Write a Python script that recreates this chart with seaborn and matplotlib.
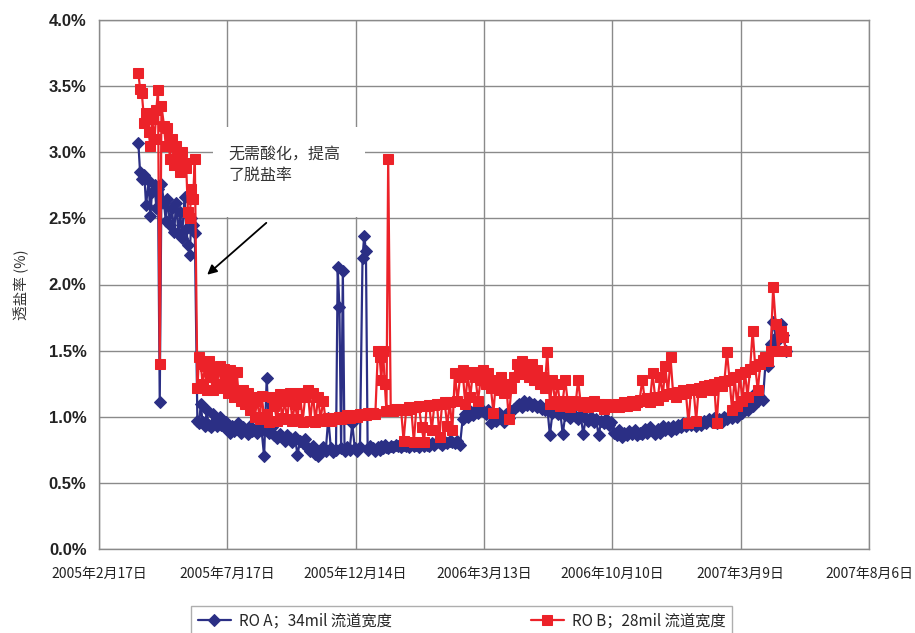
import numpy as np
import pandas as pd
import matplotlib
matplotlib.use("Agg")
import matplotlib.pyplot as plt
import seaborn as sns
from matplotlib.patches import Rectangle
from matplotlib.ticker import FuncFormatter

# ---------------- data ----------------
# days since 2005-02-17
days = [46, 48, 50, 53, 55, 58, 60, 62, 65, 67, 69, 71, 73, 76, 78, 80, 83, 85, 88, 90,
        93, 95, 97, 100, 102, 104, 106, 108, 110, 112,
        115, 117, 119, 121, 124, 126, 128, 131, 133, 136, 138, 141, 143, 146, 148,
        151, 153, 156, 158, 161, 163, 166, 168, 171, 174, 177, 179, 182, 185, 188,
        190, 193, 196, 199, 202, 205, 208, 211, 214, 217, 220, 223, 226, 229, 232,
        235, 238, 241,
        244, 247, 250, 253, 256, 259, 262, 265, 268, 271, 274, 277, 279, 281, 283,
        285, 287, 290, 293, 296, 299, 302, 305, 308, 310, 312, 314, 317, 320, 323,
        326, 328, 330, 332, 334, 336, 338, 341, 344, 347,
        350, 353, 356, 359, 362, 365, 368, 371, 374, 377, 380, 383, 386, 389, 392,
        395, 398, 401, 404, 407, 410, 413, 416, 419, 422, 425, 428, 431, 434, 437,
        440, 443, 446,
        449, 452, 455, 458, 461, 464, 467, 470, 473, 476, 479, 482, 485, 488, 491,
        494, 497, 500, 503, 506, 509, 512, 515, 518, 521, 524, 527, 530, 533, 536,
        539, 542, 545, 548, 551, 554, 557, 560, 563, 566, 569, 572, 575, 578, 581,
        584, 587, 590, 593, 596, 599,
        602, 605, 608, 611, 614, 617, 620, 623, 626, 629, 632, 635, 638, 641, 644,
        647, 650, 653, 656, 659, 662, 665, 668, 671, 674, 677, 680, 683, 686, 689, 692,
        695, 698, 701, 704, 707, 710, 713, 716, 719, 722, 725, 728, 731, 734, 737,
        740, 743, 746, 749, 752, 755, 758, 761, 764, 767, 770, 773, 776, 779, 782,
        785, 788, 791, 794, 797, 800, 803]

ro_a = [3.07, 2.85, 2.80, 2.83, 2.60, 2.78, 2.52, 2.70, 2.75, 2.58, 2.72, 1.11, 2.76, 2.62, 2.48,
        2.65, 2.45, 2.58, 2.40, 2.62, 2.38, 2.55, 2.35, 2.66, 2.42, 2.30, 2.22, 2.50, 2.45, 2.39,
        0.97, 0.95, 1.10, 0.96, 0.93, 1.05, 0.94, 0.92, 1.02, 0.95, 0.93, 1.00, 0.94, 0.92, 0.96,
        0.90, 0.88, 0.93, 0.89, 0.91, 0.95, 0.88, 0.92, 0.90, 0.87, 0.93, 0.89, 0.91, 0.88, 0.92,
        0.90, 0.70, 1.29, 0.88, 0.92, 0.86, 0.84, 0.87, 0.85, 0.82, 0.86, 0.84, 0.81, 0.85, 0.71,
        0.82, 0.80, 0.83,
        0.76, 0.74, 0.78, 0.72, 0.70, 0.75, 0.77, 0.74, 0.99, 0.76, 0.73, 0.75, 2.13, 1.83, 0.76,
        2.10, 0.74, 0.77, 0.75, 0.95, 0.76, 0.74, 0.77, 2.20, 2.37, 2.25, 0.75, 0.78, 0.76, 0.74,
        0.77, 0.75, 0.78, 0.76, 0.79, 0.77, 0.76, 0.78, 0.77, 0.79,
        0.78, 0.77, 0.79, 0.78, 0.77, 0.80, 0.78, 0.79, 0.77, 0.80, 0.78, 0.79, 0.78, 0.80, 0.79,
        0.81, 0.80, 0.79, 0.81, 0.80, 0.82, 0.81, 0.80, 0.82, 0.79, 0.98, 1.02, 1.00, 1.04, 1.01,
        1.05, 1.03, 1.06,
        1.04, 1.02, 1.05, 0.95, 1.00, 0.97, 1.03, 1.00, 0.96, 1.02, 0.99, 1.04, 1.06, 1.08, 1.10,
        1.07, 1.12, 1.09, 1.11, 1.08, 1.10, 1.07, 1.09, 1.06, 1.05, 1.07, 0.86, 1.03, 1.05, 1.02,
        1.04, 0.87, 1.01, 1.03, 0.99, 1.02, 1.00, 0.98, 1.01, 0.87, 0.99, 0.97, 1.00, 0.96, 0.98,
        0.86, 0.97, 0.95, 0.98, 0.94, 0.96,
        0.88, 0.86, 0.90, 0.85, 0.88, 0.86, 0.89, 0.87, 0.90, 0.86, 0.88, 0.87, 0.91, 0.88, 0.92,
        0.89, 0.87, 0.91, 0.88, 0.93, 0.90, 0.92, 0.89, 0.93, 0.91, 0.94, 0.92, 0.95, 0.93, 0.96, 0.94,
        0.95, 0.93, 0.96, 0.94, 0.97, 0.95, 0.98, 0.96, 0.99, 0.95, 0.98, 0.96, 1.00, 0.98, 1.01,
        0.99, 1.02, 1.00, 1.04, 1.03, 1.06, 1.05, 1.10, 1.08, 1.18, 1.12, 1.15, 1.13, 1.40, 1.38,
        1.55, 1.72, 1.60, 1.58, 1.70, 1.62, 1.50]

ro_b = [3.60, 3.48, 3.45, 3.22, 3.30, 3.15, 3.05, 3.25, 3.10, 3.32, 3.47, 1.40, 3.35, 3.20, 3.05,
        3.18, 2.95, 3.10, 2.90, 3.05, 2.98, 2.85, 3.00, 2.92, 2.88, 2.55, 2.50, 2.72, 2.65, 2.95,
        1.22, 1.45, 1.40, 1.25, 1.38, 1.20, 1.42, 1.30, 1.20, 1.35, 1.25, 1.38, 1.22, 1.36, 1.30,
        1.18, 1.35, 1.26, 1.15, 1.34, 1.18, 1.12, 1.20, 1.10, 1.18, 1.05, 1.15, 1.00, 1.12, 0.98,
        1.16, 1.00, 1.02, 0.96, 1.15, 1.08, 0.97, 1.17, 0.99, 1.12, 0.98, 1.18, 0.97, 1.10, 0.98,
        1.18, 0.96, 1.15,
        1.20, 0.97, 1.18, 0.96, 1.15, 0.98, 1.12, 0.97, 0.99, 0.97, 0.99, 0.98, 0.99, 1.00, 0.98,
        1.00, 0.99, 1.01, 0.99, 1.00, 1.01, 1.00, 1.02, 1.01, 1.02, 1.01, 1.03, 1.02, 1.03, 1.02,
        1.50, 1.45, 1.28, 1.50, 1.25, 1.04, 2.95, 1.05, 1.04, 1.06,
        1.05, 1.06, 0.82, 1.05, 1.07, 1.06, 0.81, 1.07, 1.08, 0.92, 0.81, 1.08, 1.09, 0.90, 1.09,
        1.10, 0.85, 1.10, 1.11, 0.93, 1.11, 0.90, 1.33, 1.12, 1.30, 1.35, 1.10, 1.32, 1.15, 1.34,
        1.30, 1.12, 1.28,
        1.35, 1.25, 1.33, 1.22, 1.03, 1.28, 1.20, 1.30, 1.18, 1.25, 0.98, 1.22, 1.30, 1.40, 1.35,
        1.42, 1.32, 1.38, 1.30, 1.40, 1.28, 1.35, 1.25, 1.30, 1.22, 1.49, 1.10, 1.28, 1.12, 1.25,
        1.08, 1.12, 1.28, 1.10, 1.07, 1.12, 1.09, 1.28, 1.10, 1.08, 1.11, 1.07, 1.10, 1.12, 1.08,
        1.10, 1.09, 1.06, 1.10, 1.08, 1.07,
        1.08, 1.10, 1.07, 1.09, 1.11, 1.08, 1.10, 1.12, 1.09, 1.11, 1.13, 1.28, 1.12, 1.14, 1.11,
        1.33, 1.15, 1.13, 1.30, 1.16, 1.38, 1.17, 1.45, 1.18, 1.15, 1.19, 1.17, 1.20, 1.18, 0.95, 1.21,
        1.20, 0.97, 1.22, 1.19, 1.23, 1.21, 1.24, 1.20, 1.25, 0.95, 1.26, 1.23, 1.27, 1.49, 1.28,
        1.05, 1.30, 1.08, 1.32, 1.12, 1.34, 1.15, 1.36, 1.65, 1.38, 1.20, 1.40, 1.43, 1.45, 1.42,
        1.50, 1.98, 1.70, 1.50, 1.65, 1.60, 1.50]

assert len(days) == len(ro_a) == len(ro_b)

x_ticks = [0, 150, 300, 450, 600, 750, 900]
x_tick_labels = ["2005年2月17日", "2005年7月17日", "2005年12月14日", "2006年3月13日",
                 "2006年10月10日", "2007年3月9日", "2007年8月6日"]
y_ticks = [0.0, 0.5, 1.0, 1.5, 2.0, 2.5, 3.0, 3.5, 4.0]

label_a = "RO A；34mil 流道宽度"
label_b = "RO B；28mil 流道宽度"
y_label = "透盐率 (%)"
note = "无需酸化，提高\n了脱盐率"

# ---------------- style ----------------
sns.set_style("white")
FAM = ["Liberation Sans", "Noto Sans CJK SC", "DejaVu Sans"]
CJK = ["Noto Sans CJK SC", "DejaVu Sans"]
plt.rcParams["font.family"] = FAM

BLUE = "#2b2f85"
RED = "#ec2229"
GRID = "#8a8a8a"

fig = plt.figure(figsize=(9.15, 6.33), dpi=100)
ax = fig.add_axes([99 / 915, 1 - 549 / 633, (869 - 99) / 915, (549 - 20) / 633])

df = pd.DataFrame({"day": days, "RO A": ro_a, "RO B": ro_b})

sns.lineplot(data=df, x="day", y="RO A", ax=ax, color=BLUE, linewidth=1.6,
             marker="D", markersize=5.8, markeredgecolor=BLUE, markerfacecolor=BLUE,
             sort=False, estimator=None, label=label_a, zorder=3)
sns.lineplot(data=df, x="day", y="RO B", ax=ax, color=RED, linewidth=1.6,
             marker="s", markersize=7.8, markeredgecolor=RED, markerfacecolor=RED,
             sort=False, estimator=None, label=label_b, zorder=4)

ax.set_xlim(0, 900)
ax.set_ylim(0, 4.0)
ax.set_xticks(x_ticks)
ax.set_xticklabels(x_tick_labels, fontsize=10, family=CJK, color="#222222")
ax.set_yticks(y_ticks)
ax.yaxis.set_major_formatter(FuncFormatter(lambda v, p: f"{v:.1f}%"))
for t in ax.get_yticklabels():
    t.set_fontweight("bold")
    t.set_fontsize(12)
    t.set_color("#222222")

ax.grid(True, color=GRID, linewidth=1.0, zorder=0)
ax.set_axisbelow(True)
for s in ax.spines.values():
    s.set_color(GRID)
    s.set_linewidth(1.0)
ax.tick_params(axis="both", which="both", direction="out", length=5, color=GRID, width=1.0)
ax.tick_params(axis="x", pad=8)
ax.tick_params(axis="y", pad=4)

ax.set_xlabel("")
ax.set_ylabel(y_label, fontsize=10.5, family=CJK, color="#333333", labelpad=14)

# annotation
ax.add_patch(Rectangle((133, 2.51), 178, 0.68, facecolor="white", edgecolor="none", zorder=1.5))
ax.text(151, 3.05, note, fontsize=11.5, family=CJK, color="#333333", va="top", ha="left",
        linespacing=1.35, zorder=5)
ax.annotate("", xy=(124, 2.06), xytext=(198, 2.48),
            arrowprops=dict(arrowstyle="-|>", color="black", lw=1.3, mutation_scale=14), zorder=6)

# legend
handles, labels = ax.get_legend_handles_labels()
ax.get_legend().remove()
leg = fig.legend(handles, labels, loc="upper left", ncol=2, mode="expand",
                 bbox_to_anchor=(183 / 915, 0, (740 - 183) / 915, 1 - 598 / 633),
                 frameon=True, fancybox=False, edgecolor="#9a9a9a",
                 prop={"family": CJK, "size": 11}, handlelength=2.2, borderpad=0.45,
                 handletextpad=0.5, columnspacing=2.0)
leg.get_frame().set_linewidth(1.0)

fig.savefig("out.png", dpi=100)
